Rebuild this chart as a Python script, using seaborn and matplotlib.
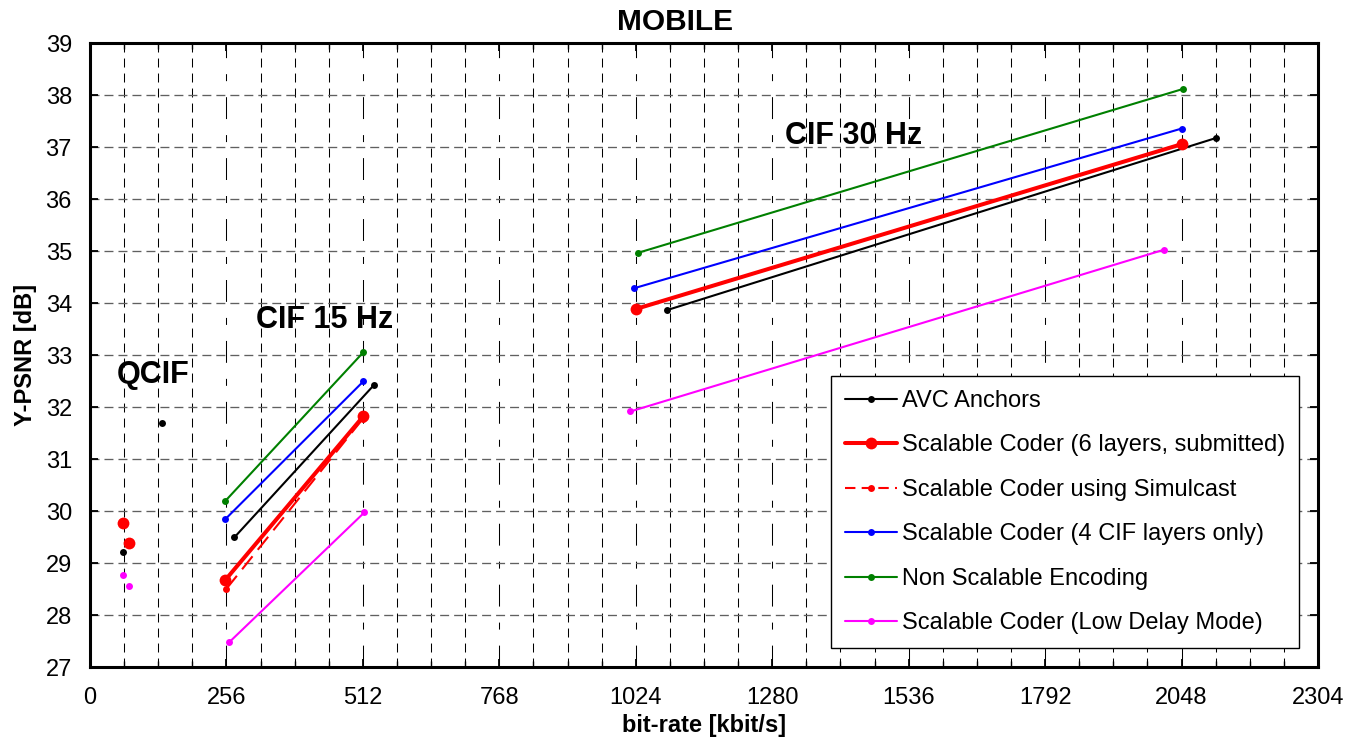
import numpy as np
import pandas as pd
import matplotlib
matplotlib.use("Agg")
import matplotlib.pyplot as plt
from matplotlib.lines import Line2D
from matplotlib.ticker import MultipleLocator
import seaborn as sns

# ---------------- data ----------------
series_names = [
    "AVC Anchors",
    "Scalable Coder (6 layers, submitted)",
    "Scalable Coder using Simulcast",
    "Scalable Coder (4 CIF layers only)",
    "Non Scalable Encoding",
    "Scalable Coder (Low Delay Mode)",
]

avc_rate = [62, 136, 271, 532, 1083, 2113]
avc_psnr = [29.22, 31.69, 29.50, 32.42, 33.87, 37.18]
avc_seg = [0, 1, 2, 2, 3, 3]

sc6_rate = [61, 74, 254, 513, 1024, 2048]
sc6_psnr = [29.77, 29.40, 28.68, 31.83, 33.89, 37.06]
sc6_seg = [0, 1, 2, 2, 3, 3]

sim_rate = [256, 512]
sim_psnr = [28.51, 31.78]
sim_seg = [0, 0]

cif4_rate = [254, 513, 1021, 2048]
cif4_psnr = [29.85, 32.50, 34.29, 37.36]
cif4_seg = [0, 0, 1, 1]

nonsc_rate = [254, 513, 1028, 2050]
nonsc_psnr = [30.20, 33.06, 34.97, 38.12]
nonsc_seg = [0, 0, 1, 1]

ld_rate = [61, 73, 261, 515, 1014, 2015]
ld_psnr = [28.78, 28.57, 27.48, 29.98, 31.92, 35.03]
ld_seg = [0, 1, 2, 2, 3, 3]

x_ticks = [0, 256, 512, 768, 1024, 1280, 1536, 1792, 2048, 2304]
y_ticks = list(range(27, 40))

group_labels = ["QCIF", "CIF 15 Hz", "CIF 30 Hz"]
group_label_x = [118, 441, 1432]
group_label_y = [32.62, 33.68, 37.22]

# ---------------- styles ----------------
styles = {
    "AVC Anchors": dict(color="#000000", lw=1.5, ms=5.0, ls="-", z=4),
    "Scalable Coder (6 layers, submitted)": dict(color="#ff0000", lw=2.9, ms=8.5, ls="-", z=6),
    "Scalable Coder using Simulcast": dict(color="#ff0000", lw=1.5, ms=5.0, ls=(0, (8, 4)), z=5),
    "Scalable Coder (4 CIF layers only)": dict(color="#0000ff", lw=1.5, ms=5.0, ls="-", z=4),
    "Non Scalable Encoding": dict(color="#008000", lw=1.5, ms=5.0, ls="-", z=4),
    "Scalable Coder (Low Delay Mode)": dict(color="#ff00ff", lw=1.5, ms=5.0, ls="-", z=4),
}

frames = []
for name, r, p, s in [
    (series_names[0], avc_rate, avc_psnr, avc_seg),
    (series_names[1], sc6_rate, sc6_psnr, sc6_seg),
    (series_names[2], sim_rate, sim_psnr, sim_seg),
    (series_names[3], cif4_rate, cif4_psnr, cif4_seg),
    (series_names[4], nonsc_rate, nonsc_psnr, nonsc_seg),
    (series_names[5], ld_rate, ld_psnr, ld_seg),
]:
    frames.append(pd.DataFrame({"series": name, "rate": r, "psnr": p, "seg": s}))
df = pd.concat(frames, ignore_index=True)

# ---------------- figure ----------------
sns.set_style("ticks")
plt.rcParams["font.family"] = ["Liberation Sans", "DejaVu Sans"]
plt.rcParams["text.color"] = "#000000"
plt.rcParams["axes.labelcolor"] = "#000000"
plt.rcParams["xtick.color"] = "#000000"
plt.rcParams["ytick.color"] = "#000000"
plt.rcParams["xtick.labelcolor"] = "#000000"
plt.rcParams["ytick.labelcolor"] = "#000000"

fig = plt.figure(figsize=(13.63, 7.56), dpi=100)
ax = fig.add_axes([90 / 1363, 1 - 667.3 / 756, (1318 - 90) / 1363, (667.3 - 43.3) / 756])

for name in series_names:
    st = styles[name]
    sub = df[df["series"] == name]
    for seg, g in sub.groupby("seg"):
        sns.lineplot(
            data=g, x="rate", y="psnr", ax=ax,
            estimator=None, sort=False, legend=False,
            color=st["color"], linewidth=st["lw"], linestyle=st["ls"],
            marker="o", markersize=st["ms"],
            markeredgecolor=st["color"], markeredgewidth=0,
            zorder=st["z"],
        )

ax.set_xlim(0, 2304)
ax.set_ylim(27, 39)
ax.set_xticks(x_ticks)
ax.set_yticks(y_ticks)
ax.xaxis.set_minor_locator(MultipleLocator(64))

ax.set_axisbelow(True)
ax.xaxis.grid(True, which="major", color="#000000", linewidth=0.75,
              linestyle=(0, (21, 15.4, 6.7, 15.4)))
ax.xaxis.grid(True, which="minor", color="#000000", linewidth=0.75,
              linestyle=(0, (8.6, 5.8)))
ax.yaxis.grid(True, which="major", color="#606060", linewidth=0.95,
              linestyle=(0, (6.8, 3.8)))

for sp in ax.spines.values():
    sp.set_visible(True)
    sp.set_linewidth(2.2)
    sp.set_color("#000000")

ax.tick_params(axis="both", which="both", direction="in", top=True, right=True,
               colors="#000000", labelcolor="#000000", labelsize=17)
ax.tick_params(axis="both", which="major", length=6, width=1.3)
ax.tick_params(axis="both", which="minor", length=4, width=1.0)
ax.tick_params(axis="x", which="major", pad=14)
ax.tick_params(axis="y", which="major", pad=13)

ax.set_xlabel("bit-rate [kbit/s]", fontsize=17, fontweight="bold", labelpad=4,
              color="#000000")
ax.set_ylabel("Y-PSNR [dB]", fontsize=17, fontweight="bold", labelpad=6,
              color="#000000")

fig.text(675 / 1363, 1 - 22 / 756, "MOBILE", ha="center", va="center",
         fontsize=21.5, fontweight="bold", color="#000000")

for lbl, gx, gy in zip(group_labels, group_label_x, group_label_y):
    ax.text(gx, gy, lbl, ha="center", va="center", fontsize=22,
            fontweight="bold", zorder=7, color="#000000")

handles = []
for name in series_names:
    st = styles[name]
    handles.append(Line2D([0], [0], color=st["color"], linewidth=st["lw"],
                          linestyle=st["ls"] if st["ls"] == "-" else (0, (5, 3)),
                          marker="o", markersize=st["ms"], markeredgewidth=0))
leg = ax.legend(handles, series_names, loc="upper center",
                bbox_to_anchor=(0.794, 0.467), fontsize=17, frameon=True,
                fancybox=False, edgecolor="#000000", framealpha=1,
                handlelength=2.2, handletextpad=0.2, labelspacing=0.95,
                borderpad=0.6, borderaxespad=0)
leg.get_frame().set_linewidth(1.0)
for t in leg.get_texts():
    t.set_color("#000000")
leg.set_zorder(10)

fig.savefig("out.png", dpi=100)
